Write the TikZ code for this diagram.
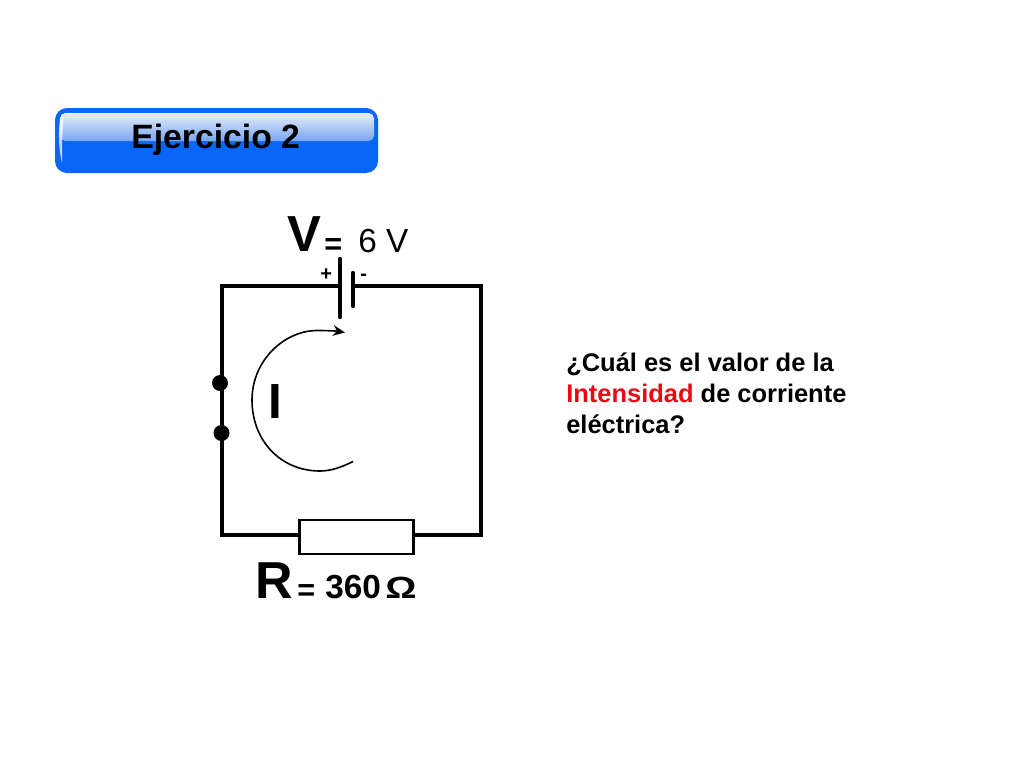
\documentclass[tikz,border=0pt]{standalone}
\usepackage{fontspec}
\setmainfont{Liberation Sans}
\usepackage{tikz}
\usetikzlibrary{arrows.meta}
\definecolor{btnblue}{RGB}{10,102,245}
\definecolor{btnpale}{RGB}{232,238,250}
\definecolor{btnmid}{RGB}{120,165,240}
\definecolor{redword}{RGB}{235,10,20}
\tikzset{
    wire/.style={line width=3pt},
    plate/.style={line width=3.3pt, line cap=round},
    terminal/.style={circle, fill=black, inner sep=0pt, minimum size=12pt},
    resistor/.style={rectangle, draw, line width=1.6pt, fill=white, inner sep=0pt, minimum width=85.5pt, minimum height=25pt},
    txt/.style={inner sep=0pt, anchor=base west},
    question/.style={txt, font=\bfseries\fontsize{19.1}{23}\selectfont},
}
\begin{document}
\begin{tikzpicture}[x=0.75pt, y=-0.75pt]
        \useasboundingbox (0,0) rectangle (1024,768);

        % button
        \draw[fill=btnblue, draw=none, rounded corners=9pt] (55,108) rectangle (378,173);
        \shade[top color=btnpale, bottom color=btnmid, rounded corners=4pt] (60,113) rectangle (374,141);
        \fill[white, opacity=.75] (60,118) .. controls (58,135) and (59,150) .. (62,163) .. controls (62,150) and (62,130) .. (64,116) -- cycle;
        \node[txt, font=\bfseries\fontsize{25.3}{30}\selectfont] (title) at (131,148) {Ejercicio 2};

        % circuit
        \coordinate (tl) at (221.5,286);
        \coordinate (tr) at (481,286);
        \coordinate (br) at (481,535);
        \coordinate (bl) at (221.5,535);
        \coordinate (pos) at (340,286);
        \coordinate (neg) at (353,286);
        \coordinate (posa) at (340,259);
        \coordinate (posb) at (340,317);
        \coordinate (nega) at (353,273);
        \coordinate (negb) at (353,306);
        \node[resistor] (r) at (356.5,537) {};
        \node[terminal] (t1) at (220,383) {};
        \node[terminal] (t2) at (221.5,433) {};

        \draw[wire] (pos) -- (tl) -- (bl) -- (bl -| r.west);
        \draw[wire] (neg) -- (tr) -- (br) -- (br -| r.east);
        \draw[plate] (posa) -- (posb);
        \draw[plate] (nega) -- (negb);

        % current arc
        \coordinate (arca) at (353,461.5);
        \coordinate (arcb) at (345,332.5);
        \draw[line width=1.2pt, -{Stealth[length=9pt,width=8pt]}] (arca) .. controls (342,467) and (331,471) .. (320,471)
            .. controls (280,471) and (252,440) .. (252,400)
            .. controls (252,360) and (285,330) .. (318,330.5)
            .. controls (327,330.5) and (336,331) .. (arcb);

        % labels
        \node[txt, font=\bfseries\fontsize{38}{40}\selectfont] (vsym) at (287,251) {V};
        \node[txt, font=\bfseries\fontsize{23}{24}\selectfont] (veq) at (324,254) {=};
        \node[txt, font=\fontsize{25}{26}\selectfont] (vval) at (358,252) {6 V};
        \node[txt, font=\bfseries\fontsize{15}{16}\selectfont] (plus) at (320,280) {+};
        \node[txt, font=\bfseries\fontsize{15}{16}\selectfont] (minus) at (360,280) {-};
        \node[txt, font=\bfseries\fontsize{37}{40}\selectfont] (isym) at (268.5,418) {I};
        \node[txt, font=\bfseries\fontsize{39}{40}\selectfont] (rsym) at (255,598) {R};
        \node[txt, font=\bfseries\fontsize{23}{24}\selectfont] (req) at (297,600) {=};
        \node[txt, font=\bfseries\fontsize{25}{26}\selectfont] (rval) at (325,598) {360};
        \node[txt, xscale=1.27, font=\bfseries\fontsize{23}{24}\selectfont] (rohm) at (385,598) {Ω};

        % question
        \node[question] (q1) at (566,371) {¿Cuál es el valor de la};
        \node[question] (q2) at (566,402) {\textcolor{redword}{Intensidad} de corriente};
        \node[question] (q3) at (566,433) {eléctrica?};
    \end{tikzpicture}
\end{document}
